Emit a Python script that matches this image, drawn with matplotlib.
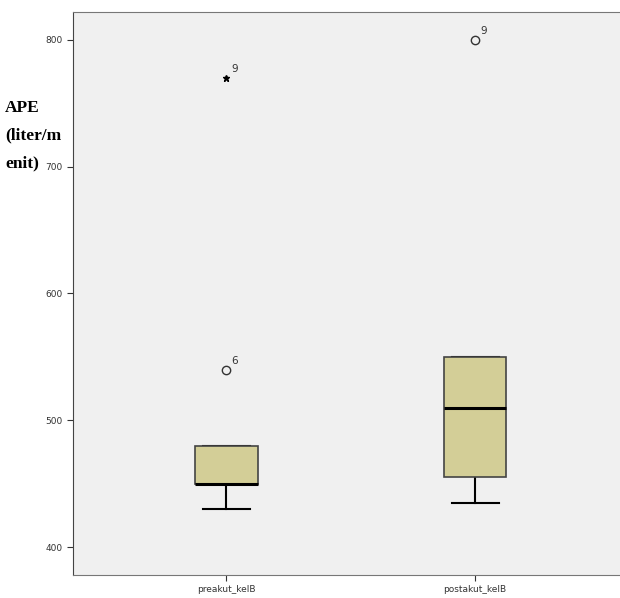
import matplotlib.pyplot as plt

# box statistics per group
groups = ['preakut_kelB', 'postakut_kelB']
q1 = [450, 455]
median = [450, 510]
q3 = [480, 550]
whislo = [430, 435]
whishi = [480, 550]
outliers = [[540, 770], [800]]
outlier_ids = [['6', '9'], ['9']]
extreme = [[False, True], [False]]
ylabel_lines = ['APE', '(liter/m', 'enit)']

stats = []
for i, g in enumerate(groups):
    stats.append({'label': g, 'q1': q1[i], 'med': median[i], 'q3': q3[i],
                  'whislo': whislo[i], 'whishi': whishi[i], 'fliers': []})

fig = plt.figure(figsize=(6.2, 5.98), dpi=100)
ax = fig.add_axes([0.1177, 0.0385, 0.885, 0.9415])
ax.set_facecolor('#f0f0f0')

pos = [1, 2]
ax.bxp(stats, positions=pos, widths=0.25, patch_artist=True, showfliers=False,
       boxprops=dict(facecolor='#d3ce97', edgecolor='#444444', linewidth=1.2,
                     zorder=3),
       medianprops=dict(color='black', linewidth=2.2, zorder=4),
       whiskerprops=dict(color='black', linewidth=1.5, zorder=2),
       capprops=dict(color='black', linewidth=1.5, zorder=2),
       capwidths=0.19)

# outliers (circle) and extremes (star) with case numbers
for i, p in enumerate(pos):
    for v, lab, ext in zip(outliers[i], outlier_ids[i], extreme[i]):
        if ext:
            ax.plot(p, v, marker='*', color='black', markersize=5, linestyle='none')
        else:
            ax.plot(p, v, marker='o', mfc='none', mec='#333333', markersize=6,
                    linestyle='none')
        ax.annotate(lab, (p, v), xytext=(3.5, 4), textcoords='offset points',
                    fontsize=7.5, color='#333333')

ax.set_xlim(0.383, 2.589)
ax.set_ylim(378, 822)
ax.set_yticks([400, 500, 600, 700, 800])
ax.set_xticks(pos)
ax.set_xticklabels(groups)
ax.tick_params(labelsize=6.5, labelcolor='#333333', length=4, color='#333333')

for s in ['top', 'bottom']:
    ax.spines[s].set_color('#777777')
ax.spines['left'].set_color('#444444')
ax.spines['right'].set_visible(False)

# wrapped y-axis title, one line at a time
for k, line in enumerate(ylabel_lines):
    fig.text(0.008, 0.82 - k * 0.0465, line, fontfamily='Liberation Serif',
             fontweight='bold', fontsize=12.5, va='center', ha='left')

fig.savefig('out.png', dpi=100)
